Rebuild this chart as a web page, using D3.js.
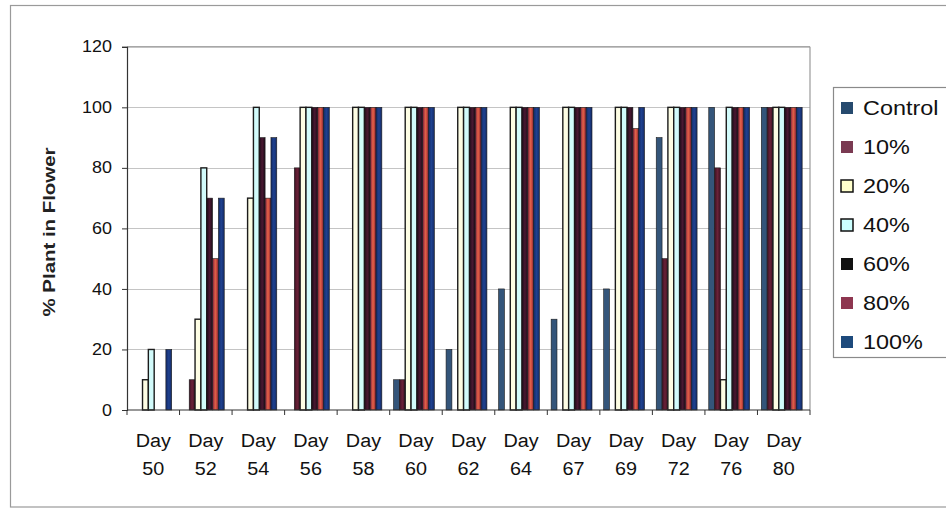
<!DOCTYPE html>
<html>
<head>
<meta charset="utf-8">
<script src="https://cdn.jsdelivr.net/npm/d3@7"></script>
<style>
  html, body { margin: 0; padding: 0; background: #fff; }
  svg { display: block; font-family: "Liberation Sans", Arial, sans-serif; }
</style>
</head>
<body>
<svg id="chart" width="946" height="509"></svg>
<script>
// Sampling days (x categories)
const days = ["50", "52", "54", "56", "58", "60", "62", "64", "67", "69", "72", "76", "80"];
// Treatments (series)
const series = ["Control", "10%", "20%", "40%", "60%", "80%", "100%"];
// % plants in flower per treatment, one value per day
const control = [0, 0, 0, 0, 0, 10, 20, 40, 30, 40, 90, 100, 100];
const pct10   = [0, 10, 0, 80, 0, 10, 0, 0, 0, 0, 50, 80, 100];
const pct20   = [10, 30, 70, 100, 100, 100, 100, 100, 100, 100, 100, 10, 100];
const pct40   = [20, 80, 100, 100, 100, 100, 100, 100, 100, 100, 100, 100, 100];
const pct60   = [0, 70, 90, 100, 100, 100, 100, 100, 100, 100, 100, 100, 100];
const pct80   = [0, 50, 70, 100, 100, 100, 100, 100, 100, 93, 100, 100, 100];
const pct100  = [20, 70, 90, 100, 100, 100, 100, 100, 100, 100, 100, 100, 100];
const yTicks = [0, 20, 40, 60, 80, 100, 120];

const values = [control, pct10, pct20, pct40, pct60, pct80, pct100];
const fills = ["#34557a", "url(#g10)", "#fdfde4", "#d2fbfb", "url(#g60)", "url(#g80)", "url(#g100)"];
const swatch = ["#264a6e", "#7a3a52", "#ffffcc", "#ccffff", "#111111", "#8e3650", "#1d4a7c"];

const svg = d3.select("#chart");

// gradients for the darker bars
const defs = svg.append("defs");
function grad(id, stops) {
  const g = defs.append("linearGradient").attr("id", id).attr("x1", 0).attr("x2", 1).attr("y1", 0).attr("y2", 0);
  stops.forEach(([o, c]) => g.append("stop").attr("offset", o).attr("stop-color", c));
}
grad("g10", [[0, "#3d1022"], [0.5, "#6a2238"], [1, "#3d1022"]]);
grad("g60", [[0, "#1c0c18"], [0.5, "#4a1832"], [1, "#1c0c18"]]);
grad("g80", [[0, "#7a1f3a"], [0.45, "#e0604a"], [0.6, "#d8553f"], [1, "#7a1f3a"]]);
grad("g100", [[0, "#142a66"], [0.5, "#1f4290"], [1, "#142a66"]]);

// stretch a text node horizontally by a factor
function widen(sel, k) {
  sel.each(function () {
    const w = this.getComputedTextLength();
    d3.select(this).attr("textLength", w * k).attr("lengthAdjust", "spacingAndGlyphs");
  });
}

// outer chart frame
svg.append("rect").attr("x", 10.5).attr("y", 5.5).attr("width", 960).attr("height", 501.5)
  .attr("fill", "none").attr("stroke", "#9a9a9a").attr("stroke-width", 1.2);

const plotL = 127, plotR = 810, plotT = 46.8, plotB = 410;

const x = d3.scaleBand().domain(days).range([plotL, plotR]).paddingInner(0).paddingOuter(0);
const y = d3.scaleLinear().domain([0, 120]).range([plotB, plotT]);
const bw = x.bandwidth();
const xs = d3.scaleBand().domain(series).range([bw / 9 - 2, bw * 8 / 9 - 2]).padding(0);

// gridlines
svg.append("g").selectAll("line").data(yTicks.filter(t => t > 0 && t < 120)).join("line")
  .attr("x1", plotL).attr("x2", plotR)
  .attr("y1", d => Math.round(y(d)) + 0.5).attr("y2", d => Math.round(y(d)) + 0.5)
  .attr("stroke", "#c4c4c4").attr("stroke-width", 1.2);

// plot area top & right border
svg.append("line").attr("x1", plotL).attr("x2", plotR).attr("y1", plotT).attr("y2", plotT)
  .attr("stroke", "#8a8a8a").attr("stroke-width", 1.3);
svg.append("line").attr("x1", plotR).attr("x2", plotR).attr("y1", plotT).attr("y2", plotB)
  .attr("stroke", "#9a9a9a").attr("stroke-width", 1.2);

// bars
const bars = [];
values.forEach((arr, si) => arr.forEach((v, di) => bars.push({ s: series[si], si, day: days[di], v })));
svg.append("g").selectAll("rect").data(bars.filter(d => d.v > 0)).join("rect")
  .attr("x", d => x(d.day) + xs(d.s))
  .attr("width", xs.bandwidth())
  .attr("y", d => y(d.v))
  .attr("height", d => y(0) - y(d.v))
  .attr("fill", d => fills[d.si])
  .attr("stroke", "#1b1b1b").attr("stroke-width", d => (d.si === 2 || d.si === 3) ? 1.4 : 0.6);

// y axis
const yAxis = d3.axisLeft(y).tickValues(yTicks).tickSize(5).tickPadding(10).tickFormat(d3.format("d"));
const ya = svg.append("g").attr("transform", `translate(${plotL},0)`).call(yAxis);
ya.select(".domain").attr("stroke", "#333").attr("stroke-width", 1.2);
ya.selectAll(".tick line").attr("stroke", "#333");
ya.selectAll(".tick text").attr("font-size", 16).attr("fill", "#111").call(widen, 1.12);

// x axis: ticks at category boundaries, two-line labels
svg.append("line").attr("x1", plotL).attr("x2", plotR).attr("y1", plotB).attr("y2", plotB)
  .attr("stroke", "#333").attr("stroke-width", 1.2);
const bounds = days.map(d => x(d)).concat([plotR]);
svg.append("g").selectAll("line").data(bounds).join("line")
  .attr("x1", d => d).attr("x2", d => d).attr("y1", plotB).attr("y2", plotB + 5)
  .attr("stroke", "#333");
const xl = svg.append("g").selectAll("g").data(days).join("g")
  .attr("transform", d => `translate(${x(d) + bw / 2},0)`);
xl.append("text").attr("text-anchor", "middle").attr("font-size", 18).attr("fill", "#111")
  .attr("y", 447).text("Day").call(widen, 1.1);
xl.append("text").attr("text-anchor", "middle").attr("font-size", 18).attr("fill", "#111")
  .attr("y", 475).text(d => d).call(widen, 1.1);

// y title
svg.append("text").attr("transform", "translate(55,232) rotate(-90)")
  .attr("text-anchor", "middle").attr("font-size", 17).attr("font-weight", "bold").attr("fill", "#222")
  .text("% Plant in Flower").call(widen, 1.2);

// legend
const lg = svg.append("g");
lg.append("rect").attr("x", 833.5).attr("y", 87.5).attr("width", 130).attr("height", 270)
  .attr("fill", "#fff").attr("stroke", "#8a8a8a").attr("stroke-width", 1.2);
const ly = d3.scalePoint().domain(series).range([108, 342]);
const li = lg.selectAll("g.item").data(series).join("g").attr("class", "item")
  .attr("transform", d => `translate(0,${ly(d)})`);
li.append("rect").attr("x", 841).attr("y", -6).attr("width", 12).attr("height", 12)
  .attr("fill", (d, i) => swatch[i])
  .attr("stroke", (d, i) => (i === 2 || i === 3) ? "#111" : "none").attr("stroke-width", 1.5);
li.append("text").attr("x", 863).attr("y", 7).attr("font-size", 20).attr("fill", "#111")
  .text(d => d).call(widen, 1.17);
</script>
</body>
</html>
